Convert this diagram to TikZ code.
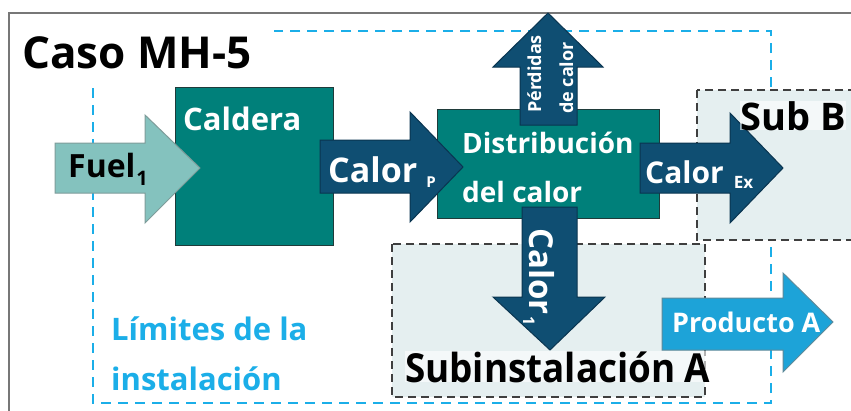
\documentclass[tikz,border=0pt]{standalone}
\usepackage{fontspec}
\setmainfont{Open Sans}
\definecolor{tealc}{HTML}{00807A}
\definecolor{boxedge}{HTML}{1F3B3A}
\definecolor{darkb}{HTML}{0F4E72}
\definecolor{darkedge}{HTML}{0A3550}
\definecolor{fuelc}{HTML}{84C2BE}
\definecolor{fueledge}{HTML}{7E9C9A}
\definecolor{prodc}{HTML}{1DA3D8}
\definecolor{prodedge}{HTML}{5E8A9A}
\definecolor{limitc}{HTML}{1BAEE8}
\definecolor{subfill}{HTML}{E5EFF0}
\definecolor{subedge}{HTML}{3F3F3F}
\definecolor{framec}{HTML}{777777}
\newcommand\fs[1]{\fontsize{#1}{#1}\selectfont}
\begin{document}
\begin{tikzpicture}[x=1pt,y=-1pt,
  procbox/.style={fill=tealc,draw=boxedge,line width=1.3pt,inner sep=0pt,anchor=north west},
  darrow/.style={fill=darkb,draw=darkedge,line width=1pt,line join=miter},
  fuelarrow/.style={fill=fuelc,draw=fueledge,line width=1pt,line join=miter},
  prodarrow/.style={fill=prodc,draw=prodedge,line width=1pt,line join=miter},
  subbox/.style={fill=subfill,draw=subedge,line width=2pt,dash pattern=on 8pt off 5pt},
  limitline/.style={draw=limitc,line width=1.8pt,dash pattern=on 10pt off 7pt},
  lbl/.style={inner sep=0pt,anchor=base west,font=\bfseries},
  wlbl/.style={lbl,text=white},
  whitebg/.style={fill=white,fill opacity=0.6,text opacity=1}]
\useasboundingbox (0,0) rectangle (851,410);
\clip (0,0) rectangle (851,410);
\fill[white] (0,0) rectangle (851,410);
% outer frame
\draw[framec,line width=2pt] (9,13) rectangle (880,440);
% installation limits
\draw[limitline] (93,88) -- (93,403) -- (771,403) -- (771,31) -- (274,31);
% sub-installations
\draw[subbox] (697,90) rectangle (880,240);
\node[inner sep=0pt] (subB) at (780,165) {};
\draw[subbox] (392,244) rectangle (705,397);
\node[inner sep=0pt] (subA) at (548,320) {};
% boxes
\node[procbox,minimum width=158pt,minimum height=158pt] (caldera) at (175,87) {};
\node[procbox,minimum width=222pt,minimum height=109pt] (dist) at (437,109) {};
% arrows
\draw[fuelarrow] (55,143) -- (145,143) -- (145,115) -- (200,168) -- (145,223) -- (145,193) -- (55,193) -- cycle;
\draw[darrow] (320,140) -- (410,140) -- (410,112) -- (463,167) -- (410,222) -- (410,193) -- (320,193) -- cycle;
\draw[darrow] (520,125) -- (520,67) -- (493,67) -- (548,13) -- (603,67) -- (577,67) -- (577,125) -- cycle;
\draw[darrow] (522,207) -- (522,297) -- (493,297) -- (550,350) -- (605,297) -- (577,297) -- (577,207) -- cycle;
\draw[darrow] (640,143) -- (730,143) -- (730,113) -- (783,168) -- (730,223) -- (730,193) -- (640,193) -- cycle;
\draw[prodarrow] (662,298) -- (783,298) -- (783,273) -- (833,322) -- (783,372) -- (783,350) -- (662,350) -- cycle;
% texts
\node[lbl] (title) at (22,68) {\fs{44}Caso MH-5};
\node[wlbl] (tcald) at (183,130) {\fs{31}Caldera};
\node[lbl] (tfuel) at (68,177) {\fs{32}Fuel\kern1pt\raisebox{-8pt}{\fs{20}1}};
\node[wlbl] (tcalp) at (328,182) {\fs{34}Calor\kern9pt\raisebox{-5pt}{\fs{15}P}};
\node[wlbl] (tdist1) at (462,153) {\fs{28}Distribución};
\node[wlbl] (tdist2) at (462,202) {\fs{28}del calor};
\node[wlbl,rotate=90,anchor=base] (tperd1) at (541,74) {\fs{18}Pérdidas};
\node[wlbl,rotate=90,anchor=base] (tperd2) at (573,78) {\fs{18}de calor};
\node[wlbl,rotate=-90] (tcal1) at (529,228) {\fs{33}Calor\kern2pt\raisebox{-6pt}{\fs{16}1}};
\node[wlbl] (tcalex) at (645,183) {\fs{30}Calor\kern10pt\raisebox{-5pt}{\fs{17}Ex}};
\node[lbl,whitebg] (tsubb) at (740,130) {\fs{38}Sub B};
\node[lbl,whitebg] (tsuba) at (405,382) {\scalebox{0.92}[1]{\fs{40}Subinstalación A}};
\node[lbl,text=limitc] (tlim1) at (111,340) {\fs{31}Límites de la};
\node[lbl,text=limitc] (tlim2) at (111,390) {\fs{31}instalación};
\node[wlbl] (tprod) at (672,332) {\fs{27}Producto A};
\end{tikzpicture}
\end{document}
